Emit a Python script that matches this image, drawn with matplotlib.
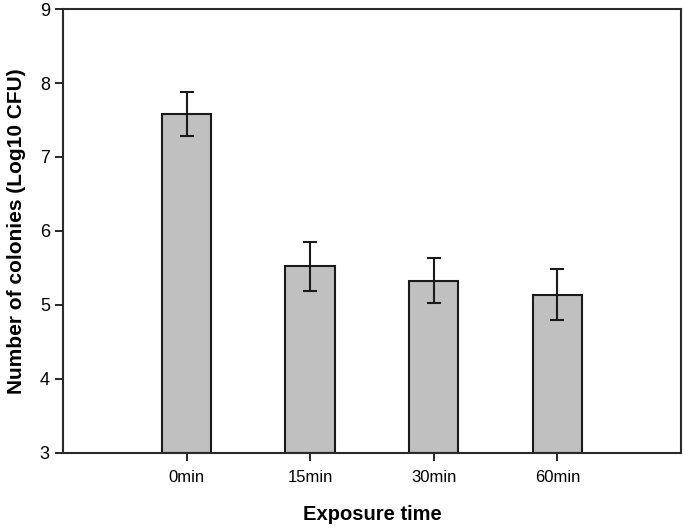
import matplotlib.pyplot as plt
import numpy as np

plt.rcParams['font.family'] = ['Liberation Sans', 'DejaVu Sans']

times = ['0min', '15min', '30min', '60min']
colonies = [7.58, 5.52, 5.33, 5.14]
errors = [0.30, 0.33, 0.31, 0.34]

fig = plt.figure(figsize=(6.85, 5.31), dpi=100)
ax = fig.add_axes([0.092, 0.147, 0.902, 0.836])

x = np.arange(1, len(times) + 1)
ax.bar(x, np.array(colonies) - 3, bottom=3, width=0.4, color='#c0c0c0',
       edgecolor='#1a1a1a', linewidth=1.5)
ax.errorbar(x, colonies, yerr=errors, fmt='none', ecolor='#1a1a1a',
            elinewidth=1.5, capsize=5, capthick=1.5)

ax.set_xlim(0, 5)
ax.set_ylim(3, 9)
ax.set_xticks(x)
ax.set_xticklabels(times, fontsize=12)
ax.set_yticks(range(3, 10))
ax.tick_params(axis='y', labelsize=13, direction='out', length=6, width=1.2)
ax.tick_params(axis='x', direction='out', length=6, width=1.2, pad=6)
for s in ax.spines.values():
    s.set_linewidth(1.5)
    s.set_color('#2a2a2a')

ax.set_xlabel('Exposure time', fontsize=14.5, fontweight='bold', labelpad=15)
ax.set_ylabel('Number of colonies (Log10 CFU)', fontsize=15, fontweight='bold',
              labelpad=10)

fig.savefig('out.png', dpi=100)
